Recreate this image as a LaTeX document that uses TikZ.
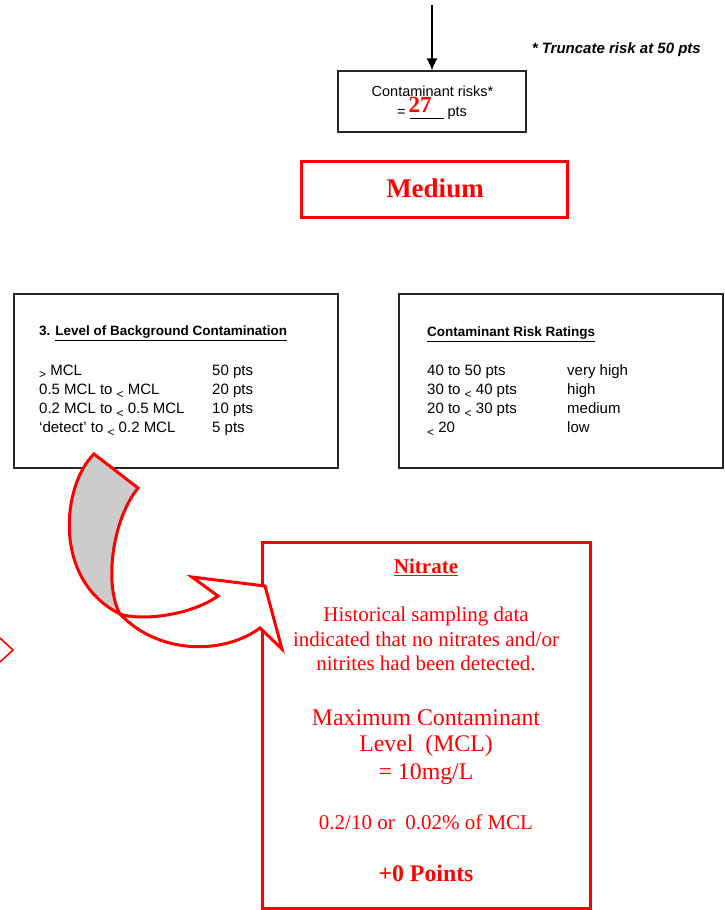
\documentclass[tikz,border=0pt]{standalone}
\usepackage{fontspec}
\setmainfont{Liberation Serif}
\newfontfamily\comic{Liberation Sans}
\usetikzlibrary{arrows.meta}
\newcommand\sublt{\raisebox{-3.5pt}{\fontsize{12}{12}\selectfont <}}
\newcommand\subgt{\raisebox{-3.5pt}{\fontsize{12}{12}\selectfont >}}
\begin{document}
\begin{tikzpicture}[x=1pt,y=-1pt,
  blackbox/.style={draw=black!85, line width=1.3pt, inner sep=0pt},
  redbox/.style={draw=red, line width=3pt, inner sep=0pt},
  rowtext/.style={font=\comic\fontsize{15}{17}\selectfont, inner sep=0pt, anchor=base west},
  titletext/.style={font=\comic\bfseries\fontsize{13.5}{16}\selectfont, inner sep=0pt, anchor=base west},
  redtext/.style={text=red, inner sep=0pt, anchor=base},
  ribbon/.style={draw=red, line width=3pt, line join=miter}
]
\useasboundingbox (0,0) rectangle (724,910);

% top arrow and risk box
\coordinate (top) at (432,5);
\node[blackbox, minimum width=188pt, minimum height=61pt] (risk) at (432,101.5) {};
\draw[line width=1.3pt, -{Latex[length=12pt,width=11pt]}] (top) -- (risk.north);
\node[inner sep=0pt, anchor=base, font=\comic\fontsize{14.5}{16}\selectfont] (risktxt) at (432.5,96.5) {Contaminant risks*};
\node[inner sep=0pt, anchor=base, font=\comic\fontsize{14.5}{16}\selectfont] (riskpts) at (432,116.5) {= \underline{\hspace{34pt}} pts};
\node[redtext, font=\bfseries\fontsize{23}{25}\selectfont] (val) at (420,112.5) {27};

\node[inner sep=0pt, anchor=base east, font=\comic\bfseries\itshape\fontsize{15}{17}\selectfont] (trunc) at (701,53) {* Truncate risk at 50 pts};

% Medium box
\node[redbox, minimum width=266pt, minimum height=56pt] (medbox) at (434,189) {};
\node[redtext, font=\bfseries\fontsize{27}{30}\selectfont] (medtxt) at (435,197.5) {Medium};

% left box
\node[blackbox, minimum width=324pt, minimum height=174pt] (lbox) at (176,381) {};
\node[titletext] (ltitle) at (39,335.7) {3. \underline{Level of Background Contamination}};
\node[rowtext] (l1a) at (39,375) {\subgt\ MCL};
\node[rowtext] (l2a) at (39,394.5) {0.5 MCL to \sublt\ MCL};
\node[rowtext] (l3a) at (39,413.5) {0.2 MCL to \sublt\ 0.5 MCL};
\node[rowtext] (l4a) at (39,432.5) {‘detect’ to \sublt\ 0.2 MCL};
\node[rowtext] (l1b) at (212,375) {50 pts};
\node[rowtext] (l2b) at (212,394.5) {20 pts};
\node[rowtext] (l3b) at (212,413.5) {10 pts};
\node[rowtext] (l4b) at (212,432.5) {5 pts};

% right box
\node[blackbox, minimum width=324pt, minimum height=174pt] (rbox) at (561,381) {};
\node[titletext] (rtitle) at (427,336.5) {\underline{Contaminant Risk Ratings}};
\node[rowtext] (r1a) at (427,375) {40 to 50 pts};
\node[rowtext] (r2a) at (427,394.5) {30 to \sublt\ 40 pts};
\node[rowtext] (r3a) at (427,413.5) {20 to \sublt\ 30 pts};
\node[rowtext] (r4a) at (427,432.5) {\sublt\ 20};
\node[rowtext] (r1b) at (567,375) {very high};
\node[rowtext] (r2b) at (567,394.5) {high};
\node[rowtext] (r3b) at (567,413.5) {medium};
\node[rowtext] (r4b) at (567,432.5) {low};

% Nitrate box
\node[redbox, minimum width=328pt, minimum height=366pt] (nbox) at (426,725) {};
\node[redtext, font=\bfseries\fontsize{21}{24}\selectfont] (ntitle) at (426,573.3) {\underline{Nitrate}};
\node[redtext, font=\fontsize{21}{24}\selectfont] (n1) at (426,621) {Historical sampling data};
\node[redtext, font=\fontsize{21}{24}\selectfont] (n2) at (426,646) {indicated that no nitrates and/or};
\node[redtext, font=\fontsize{21}{24}\selectfont] (n3) at (426,670) {nitrites had been detected.};
\node[redtext, font=\fontsize{23.8}{26}\selectfont] (n4) at (426,725) {Maximum Contaminant};
\node[redtext, font=\fontsize{23.8}{26}\selectfont] (n5) at (426,751.7) {Level\ \ (MCL)};
\node[redtext, font=\fontsize{23.8}{26}\selectfont] (n6) at (426,779) {= 10mg/L};
\node[redtext, font=\fontsize{21}{24}\selectfont] (n7) at (426,829.3) {0.2/10 or\ \ 0.02\% of MCL};
\node[redtext, font=\bfseries\fontsize{23.8}{26}\selectfont] (n8) at (426,881.7) {+0 Points};

% curved arrow: back (gray) part
\filldraw[ribbon, fill=black!20] (94,454) -- (138,488)
  .. controls (112,520) and (104,585) .. (120,614)
  .. controls (52,580) and (62,485) .. cycle;
% curved arrow: front part with head
\filldraw[ribbon, fill=white] (120,614)
  .. controls (140,621) and (190,616) .. (218,596)
  -- (192,577) -- (265,586) -- (282,649) -- (260,628)
  .. controls (225,654) and (160,656) .. cycle;

% partial chevron at left edge
\draw[red, line width=1.6pt] (0,638) -- (13,650) -- (0,662);
\end{tikzpicture}
\end{document}
